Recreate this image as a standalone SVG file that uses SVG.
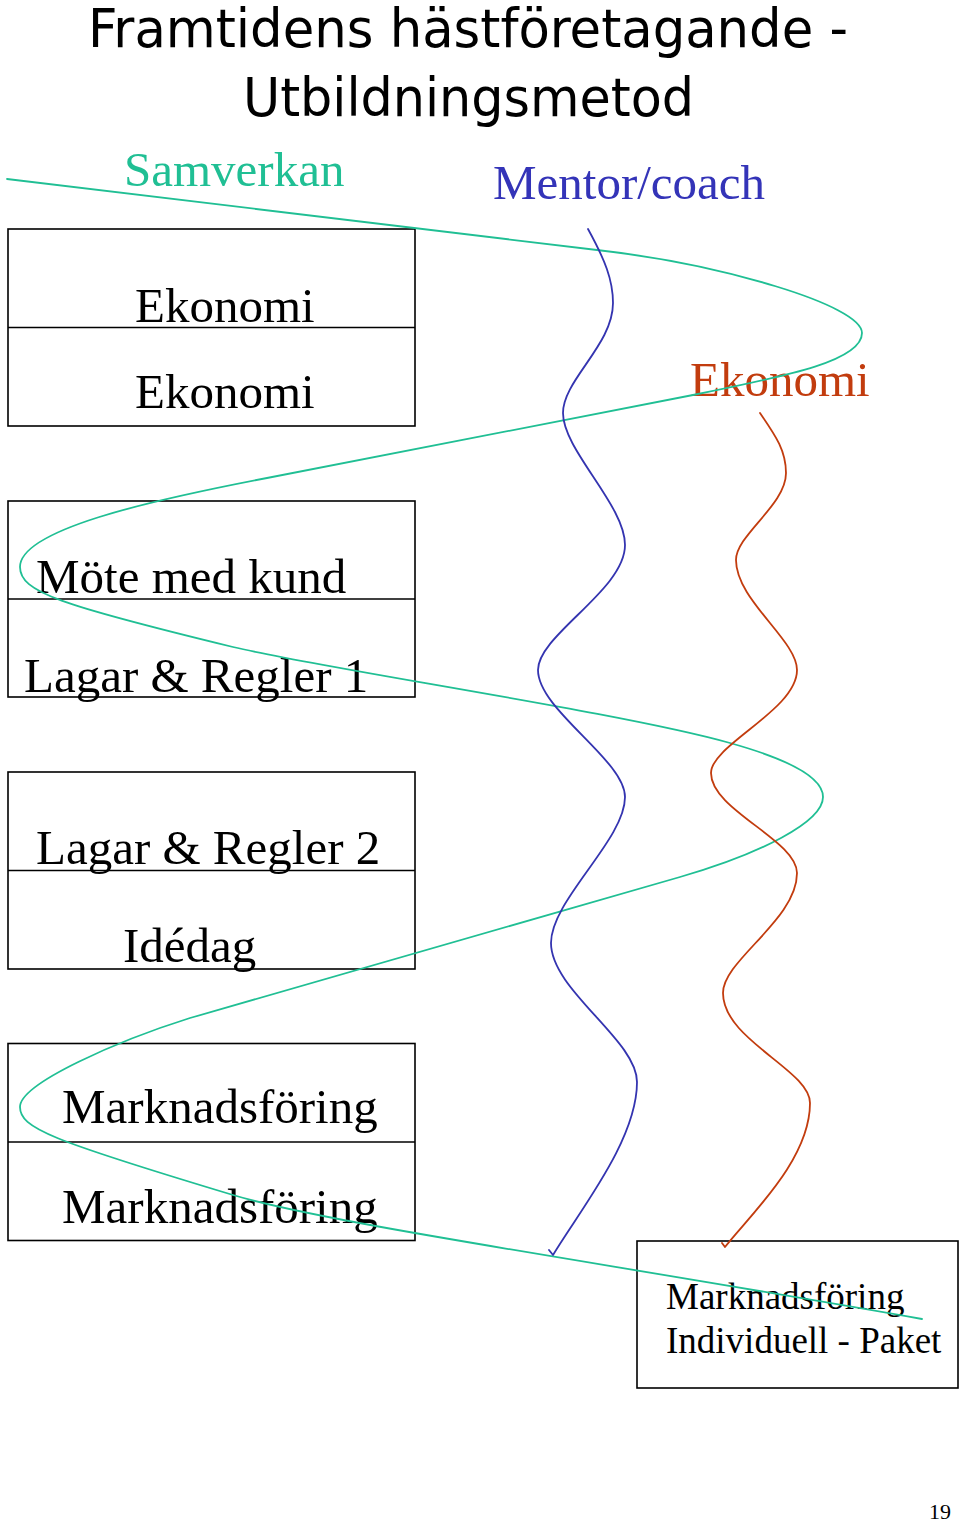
<svg xmlns="http://www.w3.org/2000/svg" width="960" height="1524" viewBox="0 0 960 1524">
<style>
.title{font-family:"DejaVu Sans Condensed","DejaVu Sans",sans-serif;font-stretch:condensed;font-size:54px;fill:#000}
.t{font-family:"Liberation Serif","Times New Roman",serif;font-size:49px;fill:#000}
.ts{font-family:"Liberation Serif","Times New Roman",serif;font-size:37px;fill:#000}
.box{fill:#fff;stroke:#000;stroke-width:1.6}
.div{stroke:#000;stroke-width:1.6}
.c{fill:none;stroke-width:1.8;stroke-linecap:round;stroke-linejoin:round}
</style>
<rect width="960" height="1524" fill="#fff"/>
<g id="title">
<text class="title" x="88" y="47" textLength="760" lengthAdjust="spacingAndGlyphs">Framtidens hästföretagande -</text>
<text class="title" x="243" y="116" textLength="451" lengthAdjust="spacingAndGlyphs">Utbildningsmetod</text>
</g>
<g id="label-samverkan"><text x="124" y="186" font-family="Liberation Serif,serif" font-size="49" fill="#20bf94">Samverkan</text></g>
<g id="label-mentor"><text x="493" y="199" font-family="Liberation Serif,serif" font-size="49" fill="#3434b8">Mentor/coach</text></g>
<g id="label-ekonomi"><text x="690" y="396" font-family="Liberation Serif,serif" font-size="49" fill="#c23c0e">Ekonomi</text></g>
<g id="box1">
<rect class="box" x="8" y="229" width="407" height="197"/>
<line class="div" x1="8" y1="327.5" x2="415" y2="327.5"/>
<text class="t" x="135" y="322">Ekonomi</text>
<text class="t" x="135" y="408">Ekonomi</text>
</g>
<g id="box2">
<rect class="box" x="8" y="501" width="407" height="196"/>
<line class="div" x1="8" y1="599" x2="415" y2="599"/>
<text class="t" x="36" y="593">Möte med kund</text>
<text class="t" x="24" y="692">Lagar &amp; Regler 1</text>
</g>
<g id="box3">
<rect class="box" x="8" y="772" width="407" height="197"/>
<line class="div" x1="8" y1="870.5" x2="415" y2="870.5"/>
<text class="t" x="36" y="864">Lagar &amp; Regler 2</text>
<text class="t" x="123" y="962">Idédag</text>
</g>
<g id="box4">
<rect class="box" x="8" y="1043.5" width="407" height="197"/>
<line class="div" x1="8" y1="1142" x2="415" y2="1142"/>
<text class="t" x="62" y="1123">Marknadsföring</text>
<text class="t" x="62" y="1223">Marknadsföring</text>
</g>
<g id="box5">
<rect class="box" x="637" y="1241" width="321" height="147"/>
<text class="ts" x="666" y="1309">Marknadsföring</text>
<text class="ts" x="666" y="1353">Individuell - Paket</text>
</g>
<g id="connectors">
<path class="c" stroke="#20bf94" d="M7,179 L597,250 C720,264 862,305 862,333 C862,360 793,375 693,395 L267,478 C147,501 20,530 20,567 C20,592 60,605 233,647 C330,670 620,712 730,743 C780,757 823,775 823,797 C823,822 760,854 680,877 L190,1018 C120,1040 20,1083 20,1107 C20,1128 50,1140 233,1195 C330,1224 600,1262 922,1319"/>
<path class="c" stroke="#3434b0" d="M588,229 C605,260 613,280 613,303 C613,345 563,380 563,413 C563,450 625,505 625,545 C625,590 538,635 538,670 C538,710 625,760 625,797 C625,840 551,900 551,943 C551,990 637,1040 637,1082 C637,1140 580,1210 553,1255 L549,1250"/>
<path class="c" stroke="#c23c0e" d="M760,413 C775,435 786,450 786,473 C786,505 736,535 736,560 C736,600 797,640 797,670 C797,710 711,745 711,773 C711,810 797,840 797,873 C797,920 723,960 723,993 C723,1040 810,1070 810,1103 C810,1160 750,1215 725,1247 L722,1243"/>
</g>
<g id="page-number"><text x="929" y="1519" font-family="Liberation Serif,serif" font-size="22" fill="#000">19</text></g>
</svg>
